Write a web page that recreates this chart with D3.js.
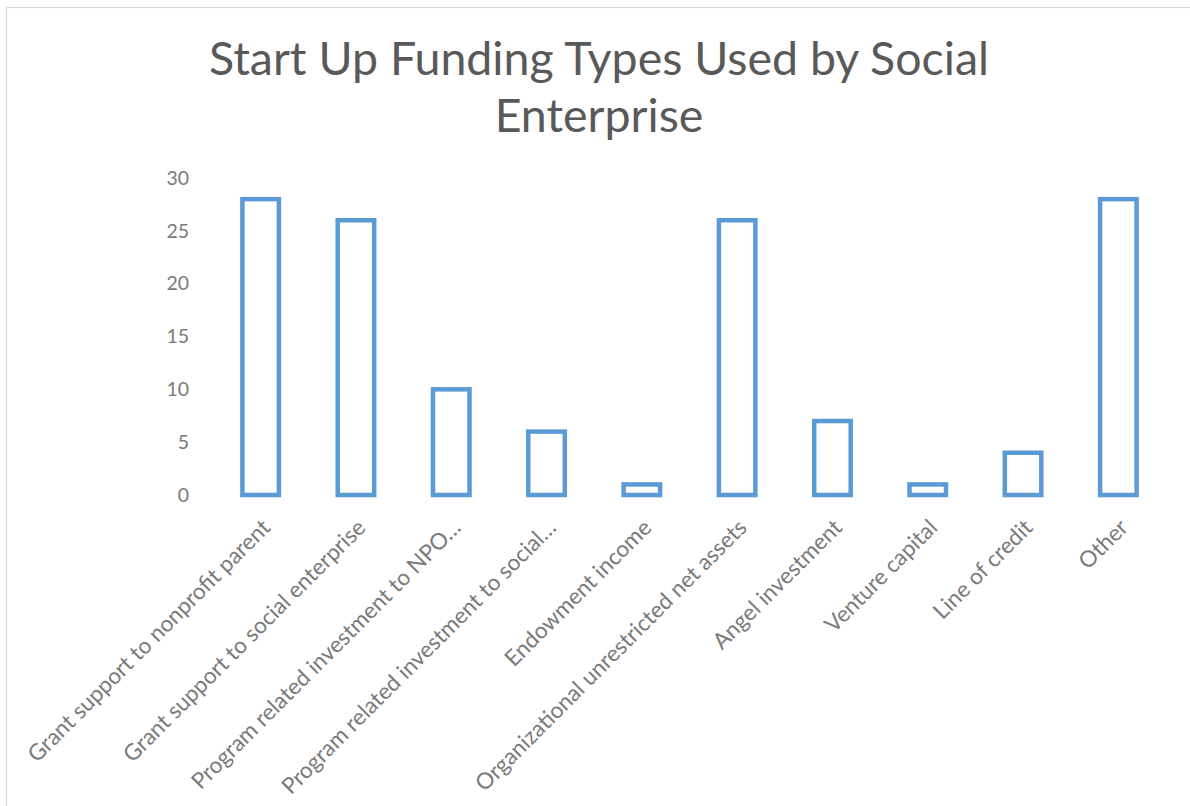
<!DOCTYPE html>
<html>
<head>
<meta charset="utf-8">
<script src="https://cdn.jsdelivr.net/npm/d3@7"></script>
<style>
  html, body { margin: 0; padding: 0; background: #ffffff; }
  svg { display: block; }
</style>
</head>
<body>
<div id="chart"></div>
<script>
// Funding types (x categories) and counts of social enterprises using each
const categories = [
  "Grant support to nonprofit parent",
  "Grant support to social enterprise",
  "Program related investment to NPO…",
  "Program related investment to social…",
  "Endowment income",
  "Organizational unrestricted net assets",
  "Angel investment",
  "Venture capital",
  "Line of credit",
  "Other"
];
const counts = [28, 26, 10, 6, 1, 26, 7, 1, 4, 28];
const yTicks = [0, 5, 10, 15, 20, 25, 30];
const titleLines = ["Start Up Funding Types Used by Social", "Enterprise"];

const W = 1190, H = 806;
const font = "Lato, 'Open Sans', sans-serif";

const svg = d3.select("#chart").append("svg")
  .attr("width", W).attr("height", H);

// chart frame
svg.append("rect")
  .attr("x", 6.5).attr("y", 7.5)
  .attr("width", W + 20).attr("height", H + 20)
  .attr("fill", "#ffffff")
  .attr("stroke", "#d9d9d9").attr("stroke-width", 1.3);

// title
svg.append("g").selectAll("text")
  .data(titleLines)
  .join("text")
  .attr("x", 599)
  .attr("y", (d, i) => 75 + i * 57)
  .attr("text-anchor", "middle")
  .attr("font-family", font)
  .attr("font-size", 46.5)
  .attr("fill", "#595959")
  .text(d => d);

const x = d3.scaleBand()
  .domain(categories)
  .range([213, 1166])
  .paddingInner(0.617)
  .paddingOuter(0.3085);

const y = d3.scaleLinear()
  .domain([0, 30])
  .range([495, 178]);

// y axis labels only
const yAxis = svg.append("g")
  .attr("transform", "translate(212,0)")
  .call(d3.axisLeft(y).tickValues(yTicks).tickSize(0).tickPadding(23));
yAxis.select(".domain").remove();
yAxis.selectAll("text")
  .attr("font-family", font)
  .attr("font-size", 19.5)
  .attr("fill", "#7a7a7a");

// bars (outlined)
svg.append("g").selectAll("rect")
  .data(categories)
  .join("rect")
  .attr("x", d => x(d))
  .attr("y", (d, i) => y(counts[i]))
  .attr("width", x.bandwidth())
  .attr("height", (d, i) => y(0) - y(counts[i]))
  .attr("fill", "#ffffff")
  .attr("stroke", "#5b9bd5")
  .attr("stroke-width", 4.5);

// rotated category labels
svg.append("g").selectAll("text")
  .data(categories)
  .join("text")
  .attr("transform", d => `translate(${x(d) + x.bandwidth() / 2 + 11},529) rotate(-45)`)
  .attr("text-anchor", "end")
  .attr("font-family", font)
  .attr("font-size", 22.5)
  .attr("fill", "#7a7a7a")
  .text(d => d);
</script>
</body>
</html>
